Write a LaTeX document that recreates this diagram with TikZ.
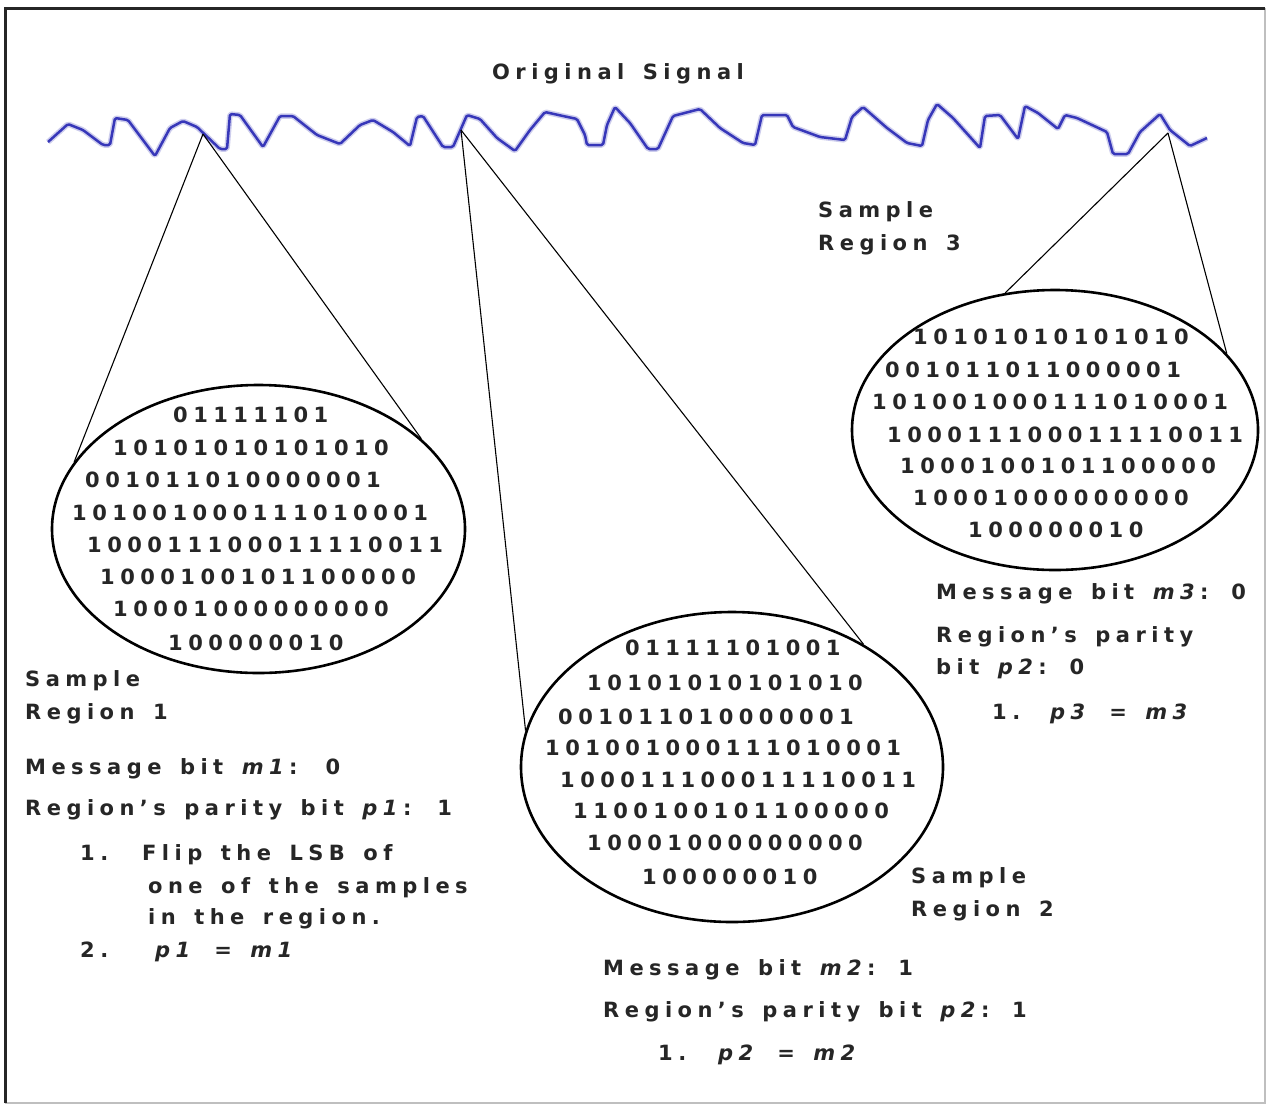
\documentclass[tikz,border=0pt]{standalone}
\usepackage{fontspec}
\setmainfont{DejaVu Sans}
\newfontfamily\lblfont[LetterSpace=26,WordSpace=1.45]{DejaVu Sans}
\usetikzlibrary{shapes.geometric}
\definecolor{wavecol}{RGB}{55,55,185}
\begin{document}
\begin{tikzpicture}[x=1pt,y=-1pt,
  txt/.style={anchor=base west, inner sep=0pt, font=\lblfont\bfseries\fontsize{21}{24}\selectfont, text=black!85},
  zone/.style={ellipse, draw=black, line width=2.6pt, inner sep=0pt},
  zoomline/.style={draw=black, line width=1.1pt},
  wave/.style={draw=wavecol, line width=2.5pt, line join=round, rounded corners=1.5pt},
  waveglow/.style={draw=wavecol!25, line width=5.5pt, line join=round, rounded corners=1.5pt},
  frametop/.style={draw=black!85, line width=3pt},
  framebot/.style={draw=black!25, line width=1.2pt}
]
\useasboundingbox (0,0) rectangle (1269,1104);
\fill[white] (0,0) rectangle (1269,1104);
% frame
\draw[framebot] (1265,8) -- (1265,1103) -- (5,1103);
\draw[frametop] (5,1103) -- (5,8) -- (1265,8);

% title
\node[txt] (title) at (492,79) {Original Signal};

% signal
\def\sig{(48,142) -- (68,124) -- (83,130) -- (103,145) -- (110,145) -- (115,118) -- (128,120) -- (155,156) -- (170,128) -- (183,121) -- (197,127) -- (220,149) -- (227,149) -- (230,114) -- (240,115) -- (263,147) -- (280,116) -- (293,116) -- (317,135) -- (340,144) -- (360,125) -- (373,120) -- (393,132) -- (410,146) -- (417,117) -- (423,116) -- (443,147) -- (453,147) -- (467,115) -- (480,119) -- (497,138) -- (515,151) -- (530,130) -- (545,112) -- (563,116) -- (577,119) -- (585,135) -- (587,145) -- (603,145) -- (607,125) -- (615,107) -- (630,123) -- (648,149) -- (658,149) -- (673,116) -- (700,109) -- (720,128) -- (743,143) -- (755,145) -- (762,115) -- (787,115) -- (793,127) -- (820,137) -- (845,140) -- (852,117) -- (863,107) -- (887,128) -- (907,143) -- (922,146) -- (928,120) -- (937,104) -- (953,118) -- (980,148) -- (985,116) -- (1000,115) -- (1018,139) -- (1025,106) -- (1038,113) -- (1058,129) -- (1065,115) -- (1077,118) -- (1107,132) -- (1113,154) -- (1128,154) -- (1140,132) -- (1160,114) -- (1170,130) -- (1190,146) -- (1207,138)}
\draw[waveglow] \sig;
\draw[wave] \sig;

\coordinate (a1) at (203,134);
\coordinate (a2) at (461,130);
\coordinate (a3) at (1168,133);

% ellipses
\node[zone, minimum width=413pt, minimum height=288pt] (e1) at (258.5,529) {};
\node[zone, minimum width=422pt, minimum height=310pt] (e2) at (732,767) {};
\node[zone, minimum width=406pt, minimum height=280pt] (e3) at (1055,430) {};

\draw[zoomline] (a1) -- (e1.160);
\draw[zoomline] (a1) -- (e1.29);
\draw[zoomline] (a2) -- (e2.170);
\draw[zoomline] (a2) -- (e2.43);
\draw[zoomline] (a3) -- (e3.110);
\draw[zoomline] (a3) -- (e3.24);

% region 1 bits
\node[txt] (b11) at (173,422) {01111101};
\node[txt] (b12) at (113,455) {10101010101010};
\node[txt] (b13) at (85,487) {001011010000001};
\node[txt] (b14) at (72,520) {101001000111010001};
\node[txt] (b15) at (87,552) {100011100011110011};
\node[txt] (b16) at (100,584) {1000100101100000};
\node[txt] (b17) at (113,616) {10001000000000};
\node[txt] (b18) at (168,650) {100000010};

% region 2 bits
\node[txt] (b21) at (625,655) {01111101001};
\node[txt] (b22) at (587,690) {10101010101010};
\node[txt] (b23) at (558,724) {001011010000001};
\node[txt] (b24) at (545,755) {101001000111010001};
\node[txt] (b25) at (560,787) {100011100011110011};
\node[txt] (b26) at (573,818) {1100100101100000};
\node[txt] (b27) at (587,850) {10001000000000};
\node[txt] (b28) at (642,884) {100000010};

% region 3 bits
\node[txt] (b31) at (913,344) {10101010101010};
\node[txt] (b32) at (885,377) {001011011000001};
\node[txt] (b33) at (872,409) {101001000111010001};
\node[txt] (b34) at (887,442) {100011100011110011};
\node[txt] (b35) at (900,473) {1000100101100000};
\node[txt] (b36) at (913,505) {10001000000000};
\node[txt] (b37) at (968,537) {100000010};

% region 1 text
\node[txt] (s1a) at (25,686) {Sample};
\node[txt] (s1b) at (25,719) {Region 1};
\node[txt] (m1) at (25,774) {Message bit \textit{m1}:\hspace{28pt}0};
\node[txt] (p1) at (25,815) {Region’s parity bit \textit{p1}:\hspace{26pt}1};
\node[txt] (n11) at (80,860) {1.};
\node[txt] (f1) at (142,860) {Flip the LSB of};
\node[txt] (f2) at (148,893) {one of the samples};
\node[txt] (f3) at (148,924) {in the region.};
\node[txt] (n12) at (80,957) {2.};
\node[txt] (eq1) at (155,957) {\textit{p1} = \textit{m1}};

% region 2 text
\node[txt] (s2a) at (911,883) {Sample};
\node[txt] (s2b) at (911,916) {Region 2};
\node[txt] (m2) at (603,975) {Message bit \textit{m2}: 1};
\node[txt] (p2) at (603,1017) {Region’s parity bit \textit{p2}: 1};
\node[txt] (n21) at (658,1060) {1.};
\node[txt] (eq2) at (718,1060) {\textit{p2} = \textit{m2}};

% region 3 text
\node[txt] (s3a) at (818,217) {Sample};
\node[txt] (s3b) at (818,250) {Region 3};
\node[txt] (m3) at (936,599) {Message bit \textit{m3}: 0};
\node[txt] (p3a) at (936,642) {Region’s parity};
\node[txt] (p3b) at (936,674) {bit \textit{p2}: 0};
\node[txt] (n31) at (992,719) {1.};
\node[txt] (eq3) at (1050,719) {\textit{p3} = \textit{m3}};
\end{tikzpicture}
\end{document}
